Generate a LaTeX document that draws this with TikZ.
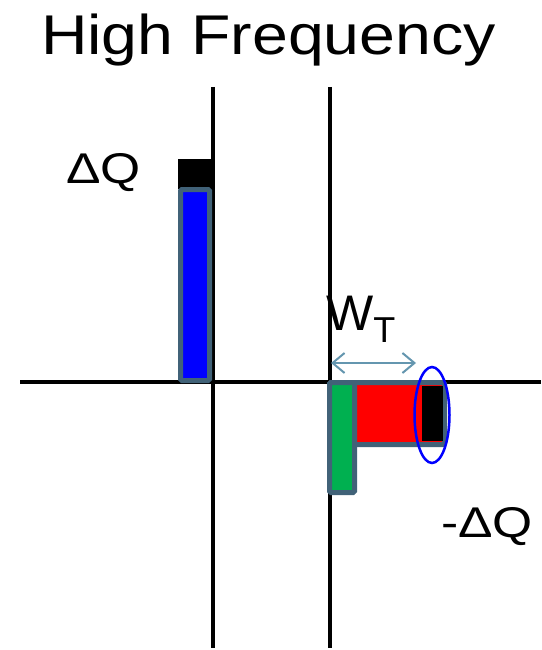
\documentclass[tikz,border=0pt]{standalone}
\usepackage{fontspec}
\setmainfont{Liberation Sans}
\usetikzlibrary{arrows.meta,shapes.geometric}

\definecolor{slate}{RGB}{65,98,120}
\definecolor{arrowblue}{RGB}{100,150,175}
\definecolor{pgreen}{RGB}{0,176,80}

\tikzset{
  axis/.style={line width=4pt},
  bar/.style={draw=slate, line width=5pt, rounded corners=1.5pt, inner sep=0pt},
  capbox/.style={fill=black, draw=none, inner sep=0pt},
  lbl/.style={inner sep=0pt, anchor=base},
}

\begin{document}
\begin{tikzpicture}[x=1pt,y=-1pt]
			\useasboundingbox (0,0) rectangle (541,650);
			% axes
			\coordinate (xl) at (20,381.5);
			\coordinate (xr) at (541,381.5);
			\coordinate (ya1) at (213,87);
			\coordinate (yb1) at (213,648);
			\coordinate (ya2) at (329.5,87);
			\coordinate (yb2) at (329.5,648);
			\draw[axis](xl) -- (xr);
			\draw[axis](ya1) -- (yb1);
			\draw[axis](ya2) -- (yb2);
			% left bar
			\node[capbox, minimum width=34pt, minimum height=30pt](topcap) at (195,173.5) {};
			\node[bar, fill=blue, minimum width=29pt, minimum height=191pt](bluebar) at (195,285) {};
			% right bars
			\node[bar, fill=red, minimum width=115pt, minimum height=62pt](redbar) at (387,413.5) {};
			\node[capbox, minimum width=21pt, minimum height=55pt](endcap) at (432,413.5) {};
			\node[bar, fill=pgreen, minimum width=25pt, minimum height=110pt](greenbar) at (342,437.5) {};
			\node[ellipse, draw=blue, line width=2.5pt, minimum width=35pt, minimum height=96pt, inner sep=0pt](ring) at (432,415) {};
			% width arrow
			\coordinate (wl) at (331,363);
			\coordinate (wr) at (416,363);
			\draw[arrowblue, line width=2pt, {Straight Barb[length=12pt,width=20pt]}-{Straight Barb[length=12pt,width=20pt]}](wl) -- (wr);
			% labels
			\node[lbl, xscale=1.15, font=\fontsize{56}{60}\selectfont](title) at (268.5,55) {High Frequency};
			\node[lbl, xscale=1.2, font=\fontsize{43}{46}\selectfont](dq) at (103.5,183) {ΔQ};
			\node[lbl, xscale=1.2, font=\fontsize{43}{46}\selectfont](mdq) at (487,537) {-ΔQ};
			\node[lbl, anchor=base west, font=\fontsize{50}{54}\selectfont](wt) at (326,330) {W\raisebox{-12pt}{\fontsize{36}{40}\selectfont T}};
		\end{tikzpicture}
\end{document}
